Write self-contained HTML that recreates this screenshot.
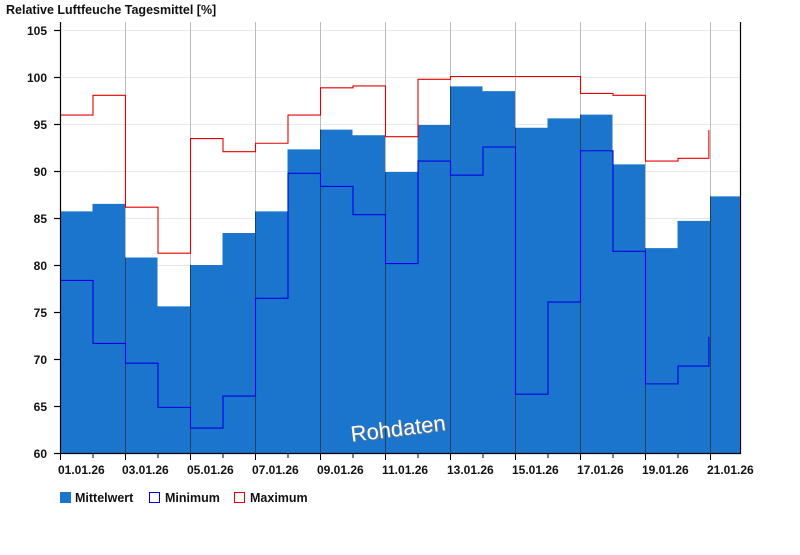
<!DOCTYPE html>
<html><head><meta charset="utf-8"><style>
body{margin:0;background:#fff;}
svg text{font-family:"Liberation Sans",Arial,sans-serif;font-weight:bold;font-size:12px;fill:#111;}
</style></head><body>
<svg width="800" height="550" xmlns="http://www.w3.org/2000/svg">
<defs>
<clipPath id="bc"><path transform="translate(60,453) scale(32.5,-9.4)" d="M0,0 V25.7 H1 V26.5 H2 V20.8 H3 V15.6 H4 V20 H5 V23.4 H6 V25.7 H7 V32.3 H8 V34.4 H9 V33.8 H10 V29.9 H11 V34.9 H12 V39 H13 V38.5 H14 V34.6 H15 V35.6 H16 V36 H17 V30.7 H18 V21.8 H19 V24.7 H20 V27.3 H20.92 V0 Z"/></clipPath>
</defs>
<text x="6" y="14" style="font-size:12.5px">Relative Luftfeuche Tagesmittel [%]</text>
<g stroke="#e8e8e8" stroke-width="1">
<line x1="61" x2="740" y1="30.5" y2="30.5"/><line x1="61" x2="740" y1="77.5" y2="77.5"/>
<line x1="61" x2="740" y1="124.5" y2="124.5"/><line x1="61" x2="740" y1="171.5" y2="171.5"/>
<line x1="61" x2="740" y1="218.5" y2="218.5"/><line x1="61" x2="740" y1="265.5" y2="265.5"/>
<line x1="61" x2="740" y1="312.5" y2="312.5"/><line x1="61" x2="740" y1="359.5" y2="359.5"/>
<line x1="61" x2="740" y1="406.5" y2="406.5"/>
</g>
<g id="vg" stroke="#bbb" stroke-width="1">
<line x1="125.5" x2="125.5" y1="22" y2="453"/><line x1="190.5" x2="190.5" y1="22" y2="453"/>
<line x1="255.5" x2="255.5" y1="22" y2="453"/><line x1="320.5" x2="320.5" y1="22" y2="453"/>
<line x1="385.5" x2="385.5" y1="22" y2="453"/><line x1="450.5" x2="450.5" y1="22" y2="453"/>
<line x1="515.5" x2="515.5" y1="22" y2="453"/><line x1="580.5" x2="580.5" y1="22" y2="453"/>
<line x1="645.5" x2="645.5" y1="22" y2="453"/><line x1="710.5" x2="710.5" y1="22" y2="453"/>
</g>
<rect x="0" y="0" width="800" height="550" fill="#1b75cc" clip-path="url(#bc)"/>
<g stroke="#1d3f62" stroke-width="1" clip-path="url(#bc)">
<line x1="125.5" x2="125.5" y1="22" y2="453"/><line x1="190.5" x2="190.5" y1="22" y2="453"/>
<line x1="255.5" x2="255.5" y1="22" y2="453"/><line x1="320.5" x2="320.5" y1="22" y2="453"/>
<line x1="385.5" x2="385.5" y1="22" y2="453"/><line x1="450.5" x2="450.5" y1="22" y2="453"/>
<line x1="515.5" x2="515.5" y1="22" y2="453"/><line x1="580.5" x2="580.5" y1="22" y2="453"/>
<line x1="645.5" x2="645.5" y1="22" y2="453"/><line x1="710.5" x2="710.5" y1="22" y2="453"/>
</g>
<g transform="translate(60.5,452.5) scale(32.5,-9.4)" fill="none">
<path vector-effect="non-scaling-stroke" stroke="#0000e6" stroke-width="1.1" d="M0,18.3 H1 V11.6 H2 V9.5 H3 V4.8 H4 V2.6 H5 V6 H6 V16.4 H7 V29.7 H8 V28.3 H9 V25.3 H10 V20.1 H11 V31 H12 V29.5 H13 V32.5 H14 V6.2 H15 V16 H16 V32.1 H17 V21.4 H18 V7.3 H19 V9.2 H19.95 V12.3"/>
<path vector-effect="non-scaling-stroke" stroke="#e60000" stroke-width="1.1" d="M0,35.9 H1 V38 H2 V26.1 H3 V21.2 H4 V33.4 H5 V32 H6 V32.9 H7 V35.9 H8 V38.8 H9 V39 H10 V33.6 H11 V39.7 H12 V40 H16 V38.2 H17 V38 H18 V31 H19 V31.3 H19.95 V34.3"/>
</g>
<g stroke="#000" stroke-width="1.2">
<line x1="60.5" x2="60.5" y1="22" y2="454"/><line x1="740.5" x2="740.5" y1="22" y2="454"/>
<line x1="60" x2="741" y1="453.5" y2="453.5"/>
<line x1="54" x2="60" y1="30.5" y2="30.5"/><line x1="54" x2="60" y1="77.5" y2="77.5"/>
<line x1="54" x2="60" y1="124.5" y2="124.5"/><line x1="54" x2="60" y1="171.5" y2="171.5"/>
<line x1="54" x2="60" y1="218.5" y2="218.5"/><line x1="54" x2="60" y1="265.5" y2="265.5"/>
<line x1="54" x2="60" y1="312.5" y2="312.5"/><line x1="54" x2="60" y1="359.5" y2="359.5"/>
<line x1="54" x2="60" y1="406.5" y2="406.5"/><line x1="54" x2="60" y1="453.5" y2="453.5"/>
</g>
<g stroke="#000" stroke-width="1">
<path d="M60.5,454v6M93,454v4M125.5,454v6M158,454v4M190.5,454v6M223,454v4M255.5,454v6M288,454v4M320.5,454v6M353,454v4M385.5,454v6M418,454v4M450.5,454v6M483,454v4M515.5,454v6M548,454v4M580.5,454v6M613,454v4M645.5,454v6M678,454v4M710.5,454v6"/>
</g>
<g text-anchor="end">
<text x="47" y="35">105</text><text x="47" y="82">100</text><text x="47" y="129">95</text>
<text x="47" y="176">90</text><text x="47" y="223">85</text><text x="47" y="270">80</text>
<text x="47" y="317">75</text><text x="47" y="364">70</text><text x="47" y="411">65</text><text x="47" y="458">60</text>
</g>
<g style="font-size:12.5px">
<text x="58" y="474">01.01.26</text><text x="122" y="474">03.01.26</text><text x="187" y="474">05.01.26</text>
<text x="252" y="474">07.01.26</text><text x="317" y="474">09.01.26</text><text x="382" y="474">11.01.26</text>
<text x="447" y="474">13.01.26</text><text x="512" y="474">15.01.26</text><text x="577" y="474">17.01.26</text>
<text x="642" y="474">19.01.26</text><text x="707" y="474">21.01.26</text>
</g>
<text x="399" y="437" text-anchor="middle" transform="rotate(-7 398 428)" style="font-size:22px;font-weight:normal;fill:#777">Rohdaten</text>
<text x="398" y="436" text-anchor="middle" transform="rotate(-7 398 428)" style="font-size:22px;font-weight:normal;fill:#fff">Rohdaten</text>
<rect x="60" y="492" width="11" height="11" fill="#1b75cc"/>
<text x="75" y="502" style="font-size:12.5px">Mittelwert</text>
<rect x="149.5" y="492.5" width="10" height="10" fill="#fff" stroke="#0000e6"/>
<text x="165" y="502" style="font-size:12.5px">Minimum</text>
<rect x="234.5" y="492.5" width="10" height="10" fill="#fff" stroke="#e60000"/>
<text x="250" y="502" style="font-size:12.5px">Maximum</text>
</svg>
</body></html>
